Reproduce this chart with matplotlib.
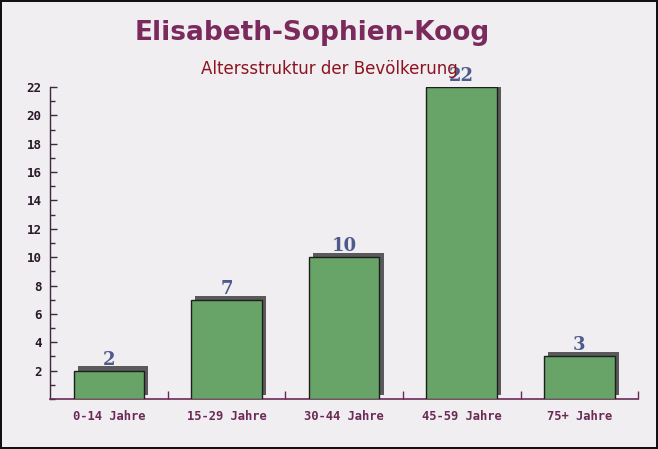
import matplotlib
matplotlib.use('Agg')
import matplotlib.pyplot as plt
import matplotlib.patheffects as pe
from matplotlib.ticker import MultipleLocator, FixedLocator

# data
categories = ['0-14 Jahre', '15-29 Jahre', '30-44 Jahre', '45-59 Jahre', '75+ Jahre']
values = [2, 7, 10, 22, 3]

title = 'Elisabeth-Sophien-Koog'
subtitle = 'Altersstruktur der Bevölkerung'

fig = plt.figure(figsize=(6.58, 4.49), dpi=100)
fig.patch.set_facecolor('#f1eef1')
fig.patch.set_edgecolor('#111111')
fig.patch.set_linewidth(1.5)

ax = fig.add_axes([0.076, 0.1114, 0.894, 0.6948])
ax.set_facecolor('none')

x = list(range(len(categories)))
bars = ax.bar(x, values, width=0.6, color='#68a468', edgecolor='#1e1e1e',
              linewidth=1.0, zorder=3)
for b in bars:
    b.set_path_effects([
        pe.SimplePatchShadow(offset=(3, 3), shadow_rgbFace='#4a4a4a', alpha=0.9),
        pe.Normal()])

# value labels
for xi, v in zip(x, values):
    ax.annotate(str(v), (xi, v), xytext=(0, 1.5), textcoords='offset points',
                ha='center', va='bottom', fontsize=13, fontweight='bold',
                family='DejaVu Serif', color='#4e5a8c', zorder=5)

ax.set_xlim(-0.5, len(categories) - 0.5)
ax.set_ylim(0, 22)

# axes style
for s in ('top', 'right'):
    ax.spines[s].set_visible(False)
ax.spines['left'].set_color('#3a2a3a')
ax.spines['bottom'].set_color('#6b2a55')
ax.spines['left'].set_linewidth(1.0)
ax.spines['bottom'].set_linewidth(1.2)

ax.yaxis.set_major_locator(FixedLocator(list(range(2, 23, 2))))
ax.yaxis.set_minor_locator(MultipleLocator(1))
ax.tick_params(axis='y', which='major', direction='in', length=5, width=1,
               color='#3a2a3a', labelsize=9, labelcolor='#2a1a2a', pad=6)
ax.tick_params(axis='y', which='minor', direction='in', length=3.5, width=1,
               color='#3a2a3a')

ax.set_xticks(x)
ax.set_xticklabels(categories)
ax.xaxis.set_minor_locator(FixedLocator([i + 0.5 for i in x]))
ax.tick_params(axis='x', which='major', length=0, labelsize=8.7,
               labelcolor='#6b2a55', pad=8)
ax.tick_params(axis='x', which='minor', direction='in', length=6, width=1,
               color='#6b2a55')

for lab in ax.get_xticklabels() + ax.get_yticklabels():
    lab.set_family('DejaVu Sans Mono')
    lab.set_fontweight('bold')

fig.text(0.475, 0.926, title, ha='center', va='center', fontsize=19,
         fontweight='bold', color='#7a2a5c')
fig.text(0.5, 0.846, subtitle, ha='center', va='center', fontsize=12,
         color='#8b1420')

fig.savefig('out.png', dpi=100, facecolor=fig.get_facecolor(),
            edgecolor=fig.get_edgecolor())
